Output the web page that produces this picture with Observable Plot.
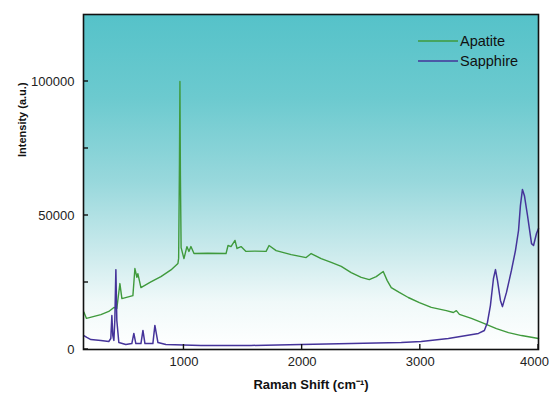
<!DOCTYPE html>
<html>
<head>
<meta charset="utf-8">
<script src="https://cdn.jsdelivr.net/npm/d3@7"></script>
<script src="https://cdn.jsdelivr.net/npm/@observablehq/plot@0.6"></script>
<style>
  html, body { margin: 0; padding: 0; background: #fff; }
</style>
</head>
<body>
<div id="chart"></div>
<script>
// ---- data ----
const seriesNames = ["Apatite", "Sapphire"];
const seriesColors = ["#3f9a3c", "#45339a"];

const apatiteX = [153, 175, 297, 364, 407, 432, 458, 475, 568, 585, 602, 610, 636, 720, 805, 890, 949, 955, 962, 966, 970, 976, 1000, 1025, 1042, 1059, 1085, 1200, 1356, 1373, 1398, 1432, 1449, 1483, 1525, 1600, 1695, 1720, 1780, 1907, 2034, 2076, 2161, 2246, 2331, 2415, 2500, 2568, 2627, 2686, 2720, 2754, 2822, 2898, 2992, 3093, 3220, 3280, 3305, 3331, 3432, 3517, 3644, 3746, 3856, 4000];
const apatiteY = [14000, 11600, 13000, 14200, 15700, 15300, 24600, 19000, 20100, 30200, 26900, 28300, 23100, 25200, 27200, 29700, 32100, 34000, 70000, 100000, 65000, 38000, 33900, 38400, 36600, 38400, 35800, 35900, 35800, 38800, 38400, 40700, 37700, 38400, 36600, 36700, 36600, 38800, 36900, 35400, 34300, 35800, 33900, 32500, 31000, 28700, 26900, 26100, 27200, 29100, 25700, 23100, 21300, 19400, 17500, 15700, 14500, 13800, 14500, 13100, 11600, 10100, 7800, 6300, 5200, 4100];

const sapphireX = [153, 178, 212, 297, 364, 381, 390, 398, 407, 415, 424, 432, 449, 508, 559, 576, 593, 636, 653, 670, 737, 754, 780, 847, 1144, 1568, 1992, 2415, 2839, 3008, 3237, 3390, 3492, 3542, 3568, 3593, 3619, 3636, 3653, 3678, 3695, 3729, 3771, 3805, 3831, 3847, 3864, 3881, 3907, 3941, 3958, 3983, 4000];
const sapphireY = [5200, 4500, 3700, 3400, 3000, 4100, 12700, 5200, 3400, 10800, 29800, 10800, 2600, 1900, 2200, 6000, 2200, 2200, 7100, 2200, 2200, 9000, 2600, 1900, 1500, 1500, 1900, 2200, 2600, 3000, 4100, 5200, 6000, 7100, 10100, 16400, 26500, 29800, 25700, 18300, 16000, 21300, 29500, 36900, 44400, 53700, 59700, 57400, 50000, 39500, 38800, 43300, 45100];

const xTicks = [1000, 2000, 3000, 4000];
const yTicks = [0, 50000, 100000];
const yMinorTicks = [25000, 75000];
const xTitle = "Raman Shift (cm⁻¹)";
const yTitle = "Intensity (a.u.)";

// ---- tables built from the arrays ----
const apatite = apatiteX.map((x, i) => ({x, y: apatiteY[i]}));
const sapphire = sapphireX.map((x, i) => ({x, y: sapphireY[i]}));

// background gradient inside the frame
function background(index, scales, values, dim) {
  const g = d3.create("svg:g");
  const grad = g.append("defs").append("linearGradient")
    .attr("id", "bggrad").attr("x1", 0).attr("y1", 0).attr("x2", 0).attr("y2", 1);
  [[0, "#55c2c9"], [0.25, "#6ccacf"], [0.5, "#98d8dc"], [0.72, "#cdebed"], [0.86, "#f0f9f9"], [1, "#ffffff"]]
    .forEach(([o, c]) => grad.append("stop").attr("offset", o).attr("stop-color", c));
  g.append("rect")
    .attr("x", dim.marginLeft).attr("y", dim.marginTop)
    .attr("width", dim.width - dim.marginLeft - dim.marginRight)
    .attr("height", dim.height - dim.marginTop - dim.marginBottom)
    .attr("fill", "url(#bggrad)");
  return g.node();
}

// inward ticks
function innerTicks(index, scales, values, dim) {
  const g = d3.create("svg:g").attr("stroke", "#111").attr("stroke-width", 1.4);
  const bottom = dim.height - dim.marginBottom;
  xTicks.forEach(v => g.append("line")
    .attr("x1", scales.x(v)).attr("x2", scales.x(v)).attr("y1", bottom).attr("y2", bottom - 5));
  yTicks.concat(yMinorTicks).forEach(v => g.append("line")
    .attr("y1", scales.y(v)).attr("y2", scales.y(v)).attr("x1", dim.marginLeft).attr("x2", dim.marginLeft + 5));
  return g.node();
}

// legend inside the frame, top right
function legend(index, scales, values, dim) {
  const g = d3.create("svg:g");
  const right = dim.width - dim.marginRight;
  seriesNames.forEach((name, i) => {
    const y = dim.marginTop + 27 + i * 20;
    g.append("line").attr("x1", right - 120).attr("x2", right - 80).attr("y1", y).attr("y2", y)
      .attr("stroke", seriesColors[i]).attr("stroke-width", 1.4);
    g.append("text").attr("x", right - 78).attr("y", y).attr("dy", "0.35em")
      .attr("text-anchor", "start")
      .attr("fill", "#111").attr("font-size", 14.5).text(name);
  });
  return g.node();
}

const chart = Plot.plot({
  width: 549,
  height: 396,
  marginTop: 14,
  marginRight: 11,
  marginBottom: 47,
  marginLeft: 83,
  style: {fontFamily: "'Liberation Sans', Arial, sans-serif", fontSize: "13px", color: "#222", background: "transparent", overflow: "visible"},
  x: {domain: [150, 4000], label: null},
  y: {domain: [0, 125000], label: null},
  marks: [
    background,
    Plot.line(apatite, {x: "x", y: "y", stroke: seriesColors[0], strokeWidth: 1.4}),
    Plot.line(sapphire, {x: "x", y: "y", stroke: seriesColors[1], strokeWidth: 1.5}),
    Plot.frame({stroke: "#111", strokeWidth: 1.6}),
    Plot.axisX({ticks: xTicks.slice(0, -1), tickSize: 0, tickPadding: 7, tickFormat: d3.format("d"), label: null}),
    Plot.axisX({ticks: xTicks.slice(-1), tickSize: 0, tickPadding: 7, tickFormat: d3.format("d"), label: null, dx: -4}),
    Plot.axisY({ticks: yTicks, tickSize: 0, tickPadding: 9, tickFormat: d3.format("d"), label: null}),
    innerTicks,
    legend,
    Plot.text([xTitle], {text: d => d, frameAnchor: "bottom", dy: 39, fontWeight: "bold", fontSize: 13, fill: "#111"}),
    Plot.text([yTitle], {text: d => d, frameAnchor: "left", dx: -61, dy: -25, rotate: -90, fontWeight: "bold", fontSize: 11, fill: "#111"})
  ]
});
document.getElementById("chart").appendChild(chart);
</script>
</body>
</html>
